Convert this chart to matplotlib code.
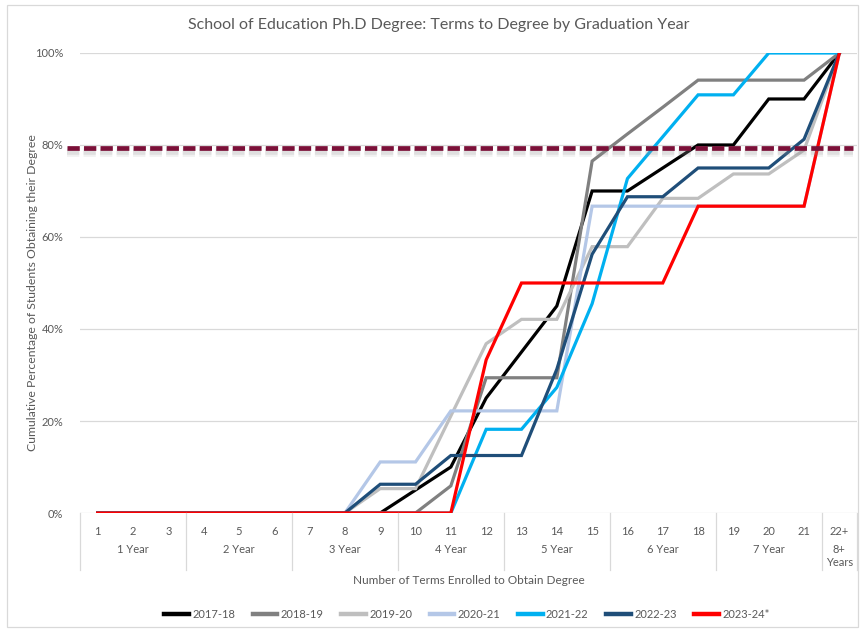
import matplotlib
matplotlib.use('Agg')
import matplotlib.pyplot as plt
import matplotlib.patheffects as pe
from matplotlib.patches import Rectangle
from matplotlib.lines import Line2D
from matplotlib.transforms import blended_transform_factory

plt.rcParams['font.family'] = ['Lato', 'DejaVu Sans']

# terms 1..22 (22 = "22+")
terms = list(range(1, 23))
term_labels = [str(t) for t in range(1, 22)] + ['22+']
groups = ['1 Year', '2 Year', '3 Year', '4 Year', '5 Year', '6 Year', '7 Year', '8+\nYears']
group_spans = [(1, 3), (4, 6), (7, 9), (10, 12), (13, 15), (16, 18), (19, 21), (22, 22)]

years = ['2017-18', '2018-19', '2019-20', '2020-21', '2021-22', '2022-23', '2023-24*']
colors = ['#000000', '#808080', '#BFBFBF', '#B4C7E7', '#00B0F0', '#1F4E79', '#FF0000']

# cumulative % by term (terms 1-7 are all 0)
z7 = [0] * 7
pct_1718 = z7 + [0, 0, 5, 10, 25, 35, 45, 70, 70, 75, 80, 80, 90, 90, 100]
pct_1819 = z7 + [0, 0, 0, 5.9, 29.4, 29.4, 29.4, 76.5, 82.4, 88.2, 94.1, 94.1, 94.1, 94.1, 100]
pct_1920 = z7 + [0, 5.3, 5.3, 21.1, 36.8, 42.1, 42.1, 57.9, 57.9, 68.4, 68.4, 73.7, 73.7, 78.9, 100]
pct_2021 = z7 + [0, 11.1, 11.1, 22.2, 22.2, 22.2, 22.2, 66.7, 66.7, 66.7, 66.7, 66.7, 66.7, 66.7, 100]
pct_2122 = z7 + [0, 0, 0, 0, 18.2, 18.2, 27.3, 45.5, 72.7, 81.8, 90.9, 90.9, 100, 100, 100]
pct_2223 = z7 + [0, 6.25, 6.25, 12.5, 12.5, 12.5, 31.25, 56.25, 68.75, 68.75, 75, 75, 75, 81.25, 100]
pct_2324 = z7 + [0, 0, 0, 0, 33.3, 50, 50, 50, 50, 50, 66.7, 66.7, 66.7, 66.7, 100]
series = [pct_1718, pct_1819, pct_1920, pct_2021, pct_2122, pct_2223, pct_2324]

target = 79.3

txt = '#595959'
grid = '#D9D9D9'

fig = plt.figure(figsize=(8.61, 6.30), dpi=100)
ax = fig.add_axes([0.0929, 0.1857, 0.9025, 0.7302])

for vals, lab, c in zip(series, years, colors):
    ax.plot(terms, vals, color=c, lw=2.3, label=lab, solid_joinstyle='miter')

ax.set_xlim(0.5, 22.5)
ax.set_ylim(0, 100)
ax.set_yticks(range(0, 101, 20))
ax.set_yticklabels([f'{v}%' for v in range(0, 101, 20)], color=txt, fontsize=8)
ax.tick_params(axis='y', length=0, pad=12)
ax.yaxis.grid(True, color=grid, lw=0.9)
ax.set_axisbelow(True)
for s in ax.spines.values():
    s.set_visible(False)

ax.set_xticks(terms)
ax.set_xticklabels(term_labels, color=txt, fontsize=8)
ax.tick_params(axis='x', length=0, pad=9)

# target line with soft shadow
ax.plot([-0.017, 0.995], [target / 100, target / 100], transform=ax.transAxes,
        color='#7B1038', lw=3.4, dashes=(2.6, 0.9), clip_on=False, zorder=5,
        path_effects=[pe.SimpleLineShadow(offset=(0, -3), shadow_color='#909090', alpha=0.12, linewidth=7),
                      pe.SimpleLineShadow(offset=(0, -3), shadow_color='#909090', alpha=0.18, linewidth=4),
                      pe.Normal()])

# multi-level category axis
tr = blended_transform_factory(ax.transData, ax.transAxes)
y_sep_bottom = -(570 - 513) / 460
for k, (a, b) in enumerate(group_spans):
    ax.plot([a - 0.5, a - 0.5], [0, y_sep_bottom], transform=tr, color=grid, lw=0.9, clip_on=False)
    yy = -(549 - 513) / 460 if k < 7 else -(556 - 513) / 460
    ax.text((a + b) / 2, yy, groups[k], transform=tr, ha='center', va='center',
            color=txt, fontsize=8, linespacing=1.3)
ax.plot([22.5, 22.5], [0, y_sep_bottom], transform=tr, color=grid, lw=0.9, clip_on=False)

ax.text(0.5, -(580 - 513) / 460, 'Number of Terms Enrolled to Obtain Degree', transform=ax.transAxes,
        ha='center', va='center', color=txt, fontsize=8.5)
fig.text(33 / 861, 1 - 293 / 630, 'Cumulative Percentage of Students Obtaining their Degree',
         rotation=90, ha='center', va='center', color=txt, fontsize=8.8)
fig.text(439 / 861, 1 - 25 / 630, 'School of Education Ph.D Degree: Terms to Degree by Graduation Year',
         ha='center', va='center', color=txt, fontsize=11.5)

handles = [Line2D([0], [0], color=c, lw=3.2) for c in colors]
leg = fig.legend(handles, years, loc='center', bbox_to_anchor=(467 / 861, 1 - 614 / 630), ncol=7,
                 frameon=False, fontsize=8, handlelength=2.2, handletextpad=0.3, columnspacing=1.6)
for t in leg.get_texts():
    t.set_color(txt)

fig.patches.append(Rectangle((7 / 861, 3 / 630), 851 / 861, 622 / 630, transform=fig.transFigure,
                             fill=False, edgecolor=grid, lw=0.9))

fig.savefig('out.png', dpi=100)
